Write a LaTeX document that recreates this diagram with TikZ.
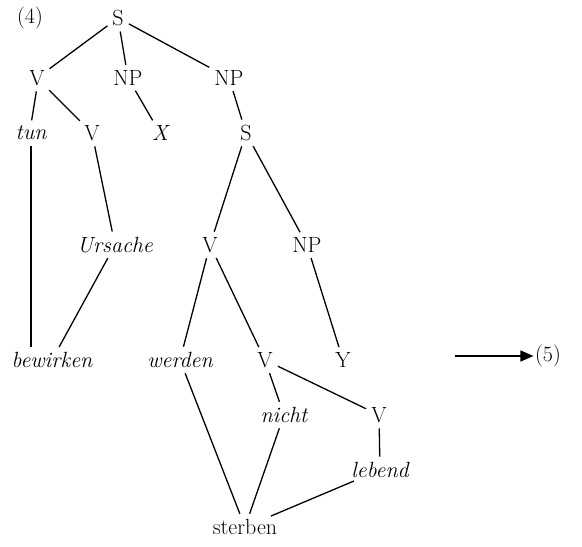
\documentclass[tikz,border=0pt]{standalone}
\usetikzlibrary{arrows.meta}

\tikzset{
  treeNode/.style={inner sep=1.5pt, font=\fontsize{22}{26}\selectfont},
  leafWord/.style={treeNode, font=\fontsize{22}{26}\selectfont\itshape},
  branch/.style={line width=1.3pt, shorten >=4pt, shorten <=4pt}
}

\begin{document}
\begin{tikzpicture}[x=1pt,y=-1pt]
  \useasboundingbox (0,0) rectangle (582,547);
  \node[treeNode] (exFour) at (30,18) {(4)};
  % Upper tree
  \node[treeNode] (sTop) at (118,18) {S};
  \node[treeNode] (vLeft) at (37,78) {V};
  \node[treeNode] (npMid) at (128,78) {NP};
  \node[treeNode] (npRight) at (229,78) {NP};
  \node[leafWord] (tun) at (31,133) {tun};
  \node[treeNode] (vInner) at (92,133) {V};
  \node[leafWord] (xArg) at (160,133) {X};
  \node[treeNode] (sLow) at (246,133) {S};
  \node[leafWord] (ursache) at (115,245) {Ursache};
  \node[treeNode] (vSub) at (210,245) {V};
  \node[treeNode] (npSub) at (307,245) {NP};
  \node[leafWord] (bewirken) at (52,360) {bewirken};
  \node[leafWord] (werden) at (180,360) {werden};
  \node[treeNode] (vNeg) at (265,360) {V};
  \node[treeNode] (yArg) at (343,360) {Y};
  \node[leafWord] (nicht) at (284,415) {nicht};
  \node[treeNode] (vLive) at (379,415) {V};
  \node[leafWord] (lebend) at (380,470) {lebend};
  \node[treeNode] (sterben) at (245,527) {sterben};
  \draw[branch] (sTop) -- (vLeft);
  \draw[branch] (sTop) -- (npMid);
  \draw[branch] (sTop) -- (npRight);
  \draw[branch] (vLeft.south) -- (tun.north);
  \draw[branch] (vLeft) -- (vInner);
  \draw[branch] (npMid) -- (xArg);
  \draw[branch] (npRight) -- (sLow);
  \draw[branch] (tun.south) -- (tun.south |- bewirken.north);
  \draw[branch] (vInner) -- (ursache);
  \draw[branch] (ursache) -- (bewirken);
  \draw[branch] (sLow) -- (vSub);
  \draw[branch] (sLow) -- (npSub);
  \draw[branch] (vSub) -- (werden);
  \draw[branch] (vSub) -- (vNeg);
  \draw[branch] (npSub) -- (yArg);
  \draw[branch] (werden) -- (sterben);
  \draw[branch] (vNeg) -- (nicht);
  \draw[branch] (vNeg) -- (vLive);
  \draw[branch] (nicht) -- (sterben);
  \draw[branch] (vLive) -- (lebend);
  \draw[branch] (lebend) -- (sterben);
  % Arrow to (5)
  \coordinate (arrowStart) at (455,356);
  \node[treeNode] (exFive) at (548,356) {(5)};
  \draw[line width=1.3pt, -{Triangle[length=13pt,width=11pt]}] (arrowStart) -- (exFive.west);
\end{tikzpicture}
\end{document}
